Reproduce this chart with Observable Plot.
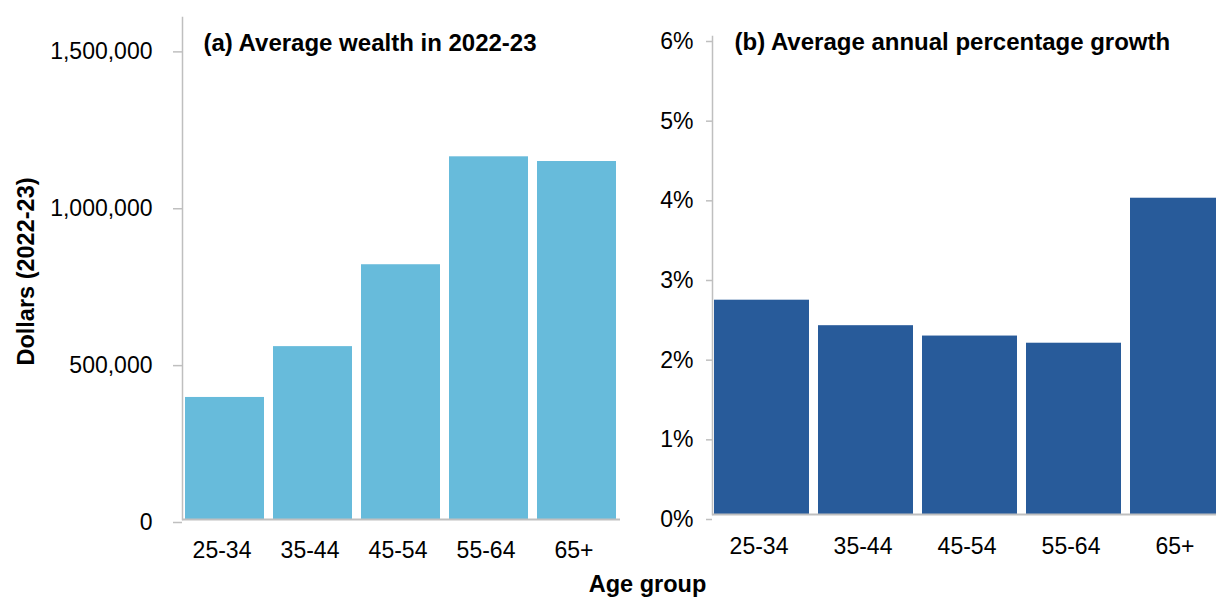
<!DOCTYPE html>
<html>
<head>
<meta charset="utf-8">
<script src="https://cdn.jsdelivr.net/npm/d3@7"></script>
<script src="https://cdn.jsdelivr.net/npm/@observablehq/plot@0.6"></script>
<style>
  html, body { margin: 0; padding: 0; background: #fff; overflow: hidden; }
  #wrap { position: relative; width: 1240px; height: 597px; font-family: "Liberation Sans", Arial, sans-serif; }
  #wrap > div { position: absolute; left: 0; top: 0; }
  svg { max-width: none !important; }
</style>
</head>
<body>
<div id="wrap"><div id="left"></div><div id="right"></div></div>
<script>
const ageGroups = ["25-34", "35-44", "45-54", "55-64", "65+"];
const wealth2022 = [389000, 551000, 812000, 1156000, 1141000];
const growthPct = [2.69, 2.37, 2.24, 2.15, 3.97];
const wealthTicks = [0, 500000, 1000000, 1500000];
const growthTicks = [0, 1, 2, 3, 4, 5, 6];
const titleA = "(a) Average wealth in 2022-23";
const titleB = "(b) Average annual percentage growth";
const yLabelA = "Dollars (2022-23)";
const xLabel = "Age group";

const FONT = "Liberation Sans, Arial, sans-serif";
const AXIS = "#bfbfbf";
const wealthData = ageGroups.map((a, i) => ({age: a, value: wealth2022[i]}));
const growthData = ageGroups.map((a, i) => ({age: a, value: growthPct[i]}));

const left = Plot.plot({
  width: 625, height: 597,
  marginLeft: 182, marginRight: 5, marginTop: 17, marginBottom: 78,
  style: {fontFamily: FONT, background: "none", color: "#000", overflow: "visible"},
  x: {domain: ageGroups, paddingInner: 0.1, paddingOuter: 0.015, align: 0.5},
  y: {domain: [0, 1600000]},
  marks: [
    Plot.barY(wealthData, {x: "age", y: "value", fill: "#67bbdb"}),
    Plot.frame({anchor: "left", stroke: AXIS, strokeWidth: 1.5}),
    Plot.ruleY([0], {stroke: AXIS, strokeWidth: 2}),
    Plot.axisY({ticks: wealthTicks, tickFormat: d3.format(","), tickSize: 9, tickPadding: 21,
      fontSize: 23, stroke: AXIS, strokeWidth: 1.5, fill: "#000", dy: 3, label: null}),
    Plot.axisX({tickSize: 0, tickPadding: 22, fontSize: 23, fill: "#000", label: null, dx: -3}),
    Plot.text([titleA], {frameAnchor: "top-left", dx: 21, dy: 33, textAnchor: "start",
      lineAnchor: "bottom", fontSize: 24, fontWeight: "bold", fill: "#000"}),
    Plot.text([yLabelA], {frameAnchor: "left", dx: -156, dy: 3, rotate: -90, textAnchor: "middle",
      lineAnchor: "middle", fontSize: 23.5, fontWeight: "bold", fill: "#000"})
  ]
});
document.getElementById("left").appendChild(left);

const right = Plot.plot({
  width: 1230, height: 597,
  marginLeft: 712, marginRight: 3, marginTop: 36, marginBottom: 83,
  style: {fontFamily: FONT, background: "none", color: "#000", overflow: "visible"},
  x: {domain: ageGroups, paddingInner: 0.09, paddingOuter: 0.02, align: 0.5},
  y: {domain: [0, 6]},
  marks: [
    Plot.barY(growthData, {x: "age", y: "value", fill: "#285b9a"}),
    Plot.frame({anchor: "left", stroke: AXIS, strokeWidth: 1.5}),
    Plot.ruleY([0], {stroke: AXIS, strokeWidth: 2}),
    Plot.axisY({ticks: growthTicks, tickFormat: d => d + "%", tickSize: 6, tickPadding: 13,
      fontSize: 23, stroke: AXIS, strokeWidth: 1.5, fill: "#000", dy: 5, label: null}),
    Plot.axisX({tickSize: 0, tickPadding: 23, fontSize: 23, fill: "#000", label: null, dx: -3}),
    Plot.text([titleB], {frameAnchor: "top-left", dx: 22, dy: 13.5, textAnchor: "start",
      lineAnchor: "bottom", fontSize: 24, fontWeight: "bold", fill: "#000"}),
    Plot.text([xLabel], {frameAnchor: "bottom-left", dx: -65, dy: 77, textAnchor: "middle",
      lineAnchor: "bottom", fontSize: 23.5, fontWeight: "bold", fill: "#000"})
  ]
});
document.getElementById("right").appendChild(right);
</script>
</body>
</html>
